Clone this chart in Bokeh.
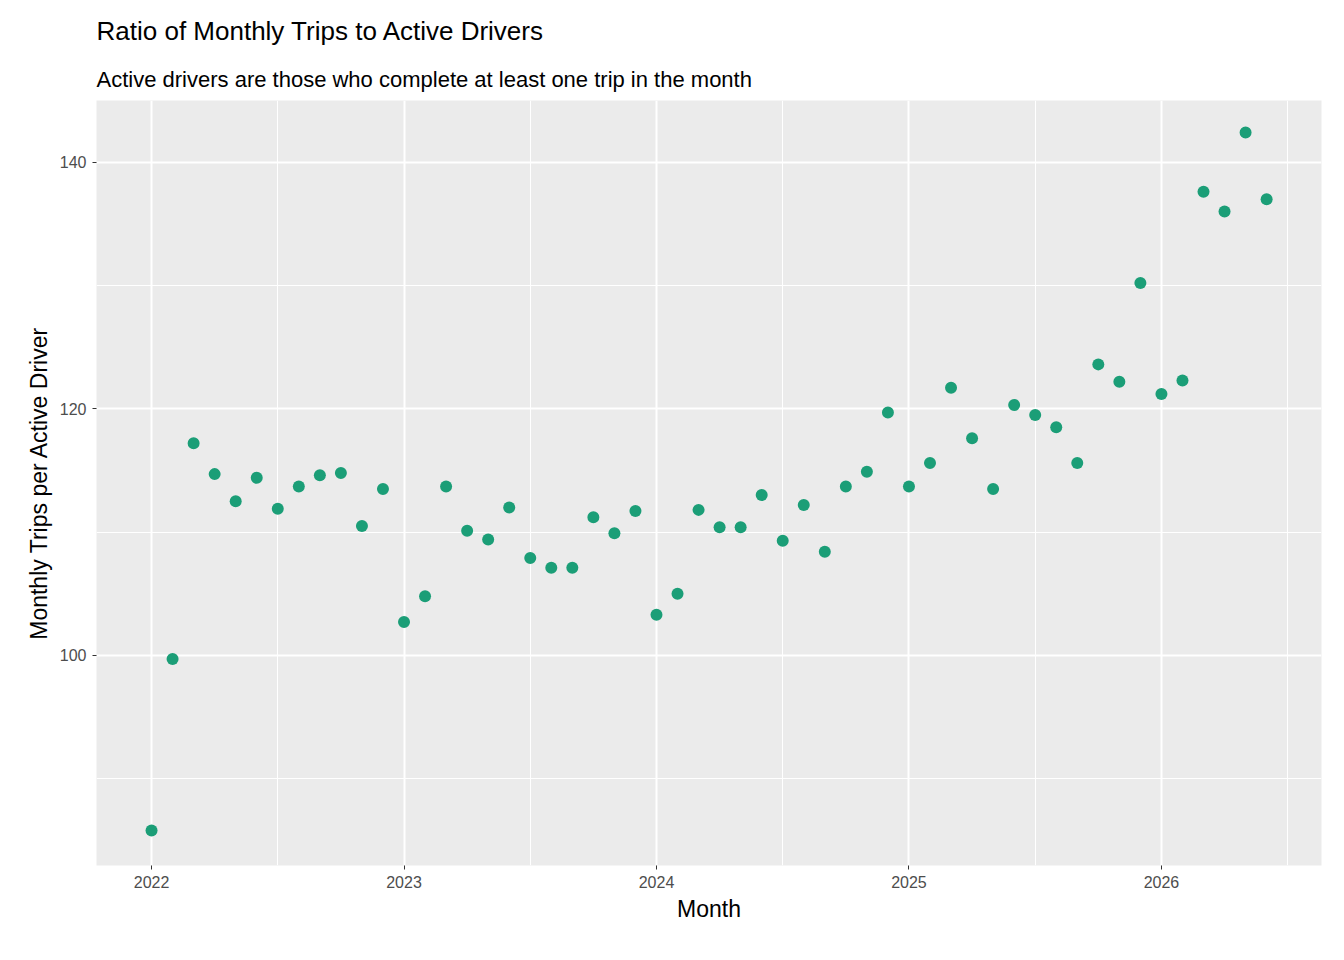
from bokeh.plotting import figure
from bokeh.models import Title, FixedTicker, Range1d
from bokeh.embed import file_html
from bokeh.resources import INLINE

years = [2022]*12 + [2023]*12 + [2024]*12 + [2025]*12 + [2026]*6
months = list(range(1, 13))*4 + list(range(1, 7))
ratio = [85.8, 99.7, 117.2, 114.7, 112.5, 114.4, 111.9, 113.7, 114.6, 114.8, 110.5, 113.5,
         102.7, 104.8, 113.7, 110.1, 109.4, 112.0, 107.9, 107.1, 107.1, 111.2, 109.9, 111.7,
         103.3, 105.0, 111.8, 110.4, 110.4, 113.0, 109.3, 112.2, 108.4, 113.7, 114.9, 119.7,
         113.7, 115.6, 121.7, 117.6, 113.5, 120.3, 119.5, 118.5, 115.6, 123.6, 122.2, 130.2,
         121.2, 122.3, 137.6, 136.0, 142.4, 137.0]
x_ticks = [2022, 2023, 2024, 2025, 2026]
y_ticks = [100, 120, 140]

xs = [y + (m - 1) / 12 for y, m in zip(years, months)]

FONT = "Liberation Sans"
p = figure(width=1328, height=944, output_backend="svg", toolbar_location=None,
           x_range=Range1d(2021.782, 2026.634), y_range=Range1d(82.96, 145.0),
           min_border_left=96, min_border_right=7, min_border_bottom=79, min_border_top=100)
p.title = None
p.add_layout(Title(text="Active drivers are those who complete at least one trip in the month",
                   text_font=FONT, text_font_size="22px", text_font_style="normal",
                   text_color="black", align="left", standoff=18), "above")
p.add_layout(Title(text="Ratio of Monthly Trips to Active Drivers",
                   text_font=FONT, text_font_size="26px", text_font_style="normal",
                   text_color="black", align="left", standoff=20), "above")

p.background_fill_color = "#EBEBEB"
p.border_fill_color = "white"
p.outline_line_color = None

p.xaxis.ticker = FixedTicker(ticks=x_ticks, minor_ticks=[2021.5 + i for i in range(6)])
p.yaxis.ticker = FixedTicker(ticks=y_ticks, minor_ticks=[90, 110, 130])
for ax in (p.xaxis, p.yaxis):
    ax.axis_line_color = None
    ax.major_tick_line_color = "#333333"
    ax.major_tick_in = 0
    ax.major_tick_out = 4
    ax.minor_tick_line_color = None
    ax.major_label_text_font = FONT
    ax.major_label_text_font_size = "16px"
    ax.major_label_text_color = "#4D4D4D"
    ax.axis_label_text_font = FONT
    ax.axis_label_text_font_size = "23px"
    ax.axis_label_text_font_style = "normal"
    ax.axis_label_text_color = "black"
p.xaxis.axis_label = "Month"
p.yaxis.axis_label = "Monthly Trips per Active Driver"
p.xaxis.major_label_standoff = 6
p.yaxis.major_label_standoff = 6

for g in (p.xgrid, p.ygrid):
    g.grid_line_color = "white"
    g.grid_line_width = 2
    g.minor_grid_line_color = "white"
    g.minor_grid_line_width = 1

p.scatter(xs, ratio, size=12, color="#1B9E77", line_color=None)

open("out.html", "w").write(file_html(p, INLINE))
